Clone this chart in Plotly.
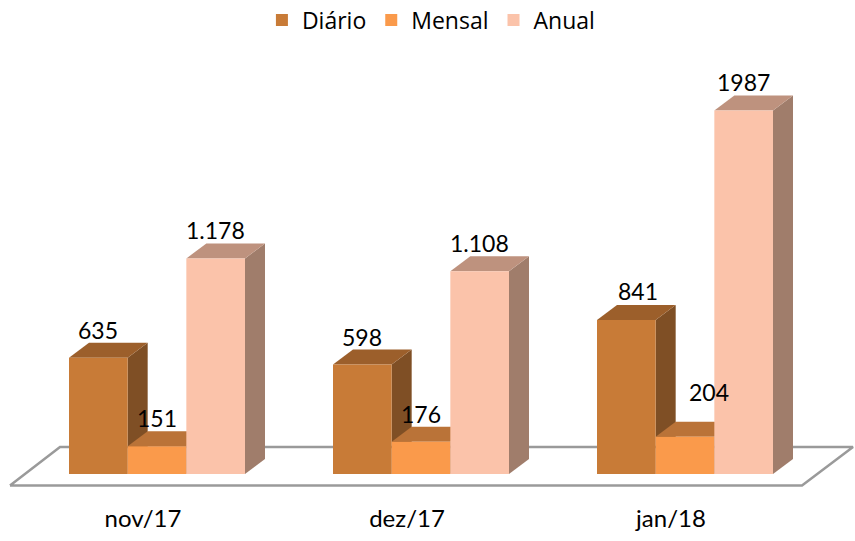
import plotly.graph_objects as go

categories = ["nov/17", "dez/17", "jan/18"]
series_names = ["Diário", "Mensal", "Anual"]
diario = [635, 598, 841]
mensal = [151, 176, 204]
anual = [1178, 1108, 1987]
diario_labels = ["635", "598", "841"]
mensal_labels = ["151", "176", "204"]
anual_labels = ["1.178", "1.108", "1987"]

values = [diario, mensal, anual]
labels = [diario_labels, mensal_labels, anual_labels]
front = ["#C87B37", "#FA9A4B", "#FBC3AA"]
top = ["#9C5F2B", "#BA7338", "#BE927E"]
side = ["#7F4F25", "#9C6030", "#A07D6B"]
label_shift = {(0, 2): (12, 29), (1, 2): (24, 45)}

W, H = 855, 541
group_px = 264.0
y_scale = 0.183          # px per unit
x0_px, y0_px = 157.0, 474.0
plot_top, plot_bottom = 50, 495
tick_shift_px = -14
dx = 20 / group_px
dy = 15 / y_scale
bar_w = 2 / 9
xr = [-x0_px / group_px, (W - x0_px) / group_px]
yr = [(y0_px - plot_bottom) / y_scale, (y0_px - plot_top) / y_scale]
xs = list(range(len(categories)))

def xd(px):
    return (px - x0_px) / group_px

def yd(px):
    return (y0_px - px) / y_scale

fig = go.Figure()
# floor
fig.add_trace(go.Scatter(
    x=[xd(10), xd(802), xd(853), xd(60), xd(10)],
    y=[yd(485.5), yd(485.5), yd(447), yd(447), yd(485.5)],
    mode="lines", line=dict(color="#9A9A9A", width=2.5), showlegend=False, hoverinfo="skip"))

# depth faces, back-to-front per series
for s, vals in enumerate(values):
    for i, v in zip(xs, vals):
        l = i + (s - 1.5) * bar_w
        r = l + bar_w
        fig.add_trace(go.Scatter(
            x=[r, r + dx, r + dx, r, r], y=[0, dy, v + dy, v, 0],
            fill="toself", fillcolor=side[s], mode="lines", line=dict(width=0),
            showlegend=False, hoverinfo="skip"))
        fig.add_trace(go.Scatter(
            x=[l, r, r + dx, l + dx, l], y=[v, v, v + dy, v + dy, v],
            fill="toself", fillcolor=top[s], mode="lines", line=dict(width=0),
            showlegend=False, hoverinfo="skip"))

# front faces on an overlaid axis pair, above all depth faces
for s, vals in enumerate(values):
    fig.add_trace(go.Bar(
        x=xs, y=vals, name=series_names[s], marker=dict(color=front[s], line=dict(width=0)),
        xaxis="x2", yaxis="y2"))

annotations = []
for s, vals in enumerate(values):
    for i, v in zip(xs, vals):
        sx, sy = label_shift.get((s, i), (0, 28))
        annotations.append(dict(
            x=i + (s - 1) * bar_w, y=v, xref="x", yref="y", text=labels[s][i],
            showarrow=False, xshift=sx, yshift=sy,
            font=dict(family="Lato", size=23, color="#000000")))

fig.update_layout(
    width=W, height=H, autosize=False,
    margin=dict(l=0, r=0, t=plot_top, b=H - plot_bottom),
    paper_bgcolor="white", plot_bgcolor="white",
    barmode="group", bargap=1 / 3, bargroupgap=0,
    xaxis=dict(range=xr, tickmode="array", tickvals=[i + tick_shift_px / group_px for i in xs],
               ticktext=categories,
               showgrid=False, zeroline=False, showline=False, ticks="",
               ticklabelstandoff=7,
               tickfont=dict(family="Lato", size=24, color="#000000")),
    yaxis=dict(range=yr, showgrid=False, zeroline=False, showticklabels=False, ticks=""),
    xaxis2=dict(range=xr, overlaying="x", anchor="y2", visible=False),
    yaxis2=dict(range=yr, overlaying="y", anchor="x2", visible=False),
    legend=dict(orientation="h", x=0.504, xanchor="center", y=1 - 20 / H, yref="container",
                yanchor="middle", font=dict(family="Open Sans", size=23, color="#000000"),
                traceorder="normal", bgcolor="rgba(0,0,0,0)"),
    annotations=annotations,
    showlegend=True,
)
fig.write_html("out.html", post_script="document.body.style.margin='0';",
               config={"displayModeBar": False})
